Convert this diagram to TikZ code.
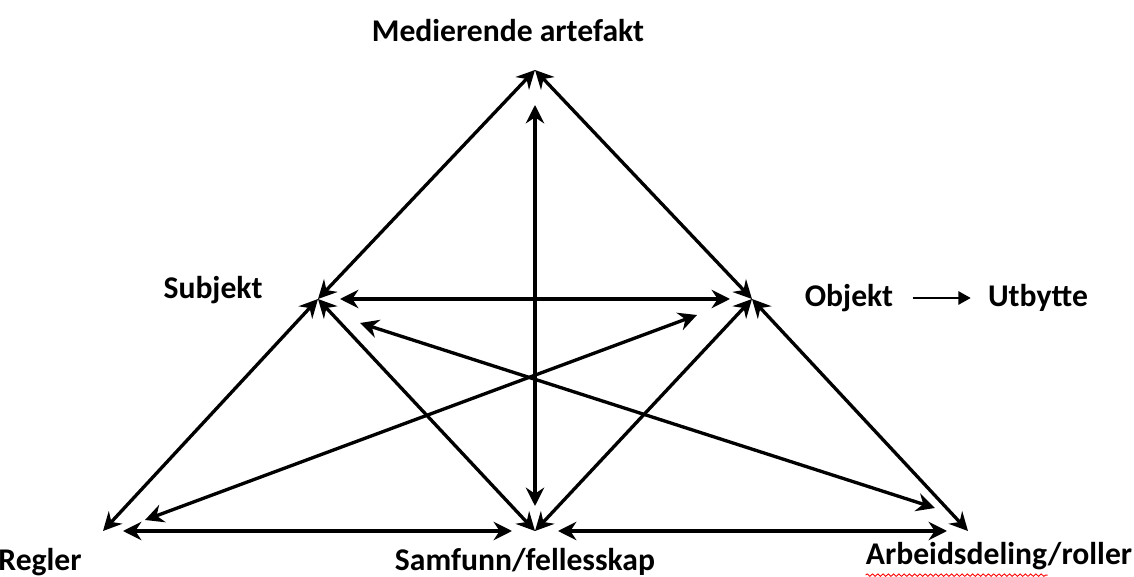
\documentclass[tikz,border=0pt]{standalone}
\usepackage{fontspec}
\setmainfont{Carlito}
\usetikzlibrary{arrows.meta,decorations.pathmorphing}
\tikzset{
  label text/.style = {font=\fontsize{18}{20}\selectfont\bfseries, inner sep=0pt},
  arr/.style        = {{Stealth[length=10.5pt,width=10.5pt,inset=3.5pt]}-{Stealth[length=10.5pt,width=10.5pt,inset=3.5pt]},
                       line width=1.9pt},
  out arr/.style    = {-{Triangle[length=7pt,width=7.5pt]}, line width=1.1pt},
  spell mark/.style = {red, line width=0.5pt, decorate,
                       decoration={snake, amplitude=0.7pt, segment length=3pt}},
}

\begin{document}
\begin{tikzpicture}[x=0.02cm, y=-0.02cm]
  \useasboundingbox (0,0) rectangle (1134,577);

  %% --- corners of the triangles -----------------------------------
  \coordinate (T) at (535,70);
  \coordinate (S) at (318,299);
  \coordinate (O) at (752,299);
  \coordinate (R) at (103,531);
  \coordinate (C) at (535,531);
  \coordinate (A) at (968,531);

  %% free ends of the long diagonals
  \coordinate (ro1) at (145,520);
  \coordinate (ro2) at (697,315);
  \coordinate (sa1) at (360,323);
  \coordinate (sa2) at (935,508);

  %% --- outer triangle ---------------------------------------------
  \draw[arr] (S) -- (T);
  \draw[arr] (T) -- (O);
  \draw[arr] (R) -- (S);
  \draw[arr] (S) -- (C);
  \draw[arr] (C) -- (O);
  \draw[arr] (O) -- (A);

  %% --- inner connections ------------------------------------------
  \draw[arr, shorten <=0.7cm, shorten >=0.5cm] (T) -- (C);
  \draw[arr, shorten <=0.44cm, shorten >=0.44cm] (S) -- (O);
  \draw[arr, shorten <=0.4cm, shorten >=0.46cm] (R) -- (C);
  \draw[arr, shorten <=0.46cm, shorten >=0.42cm] (C) -- (A);
  \draw[arr] (ro1) -- (ro2);
  \draw[arr] (sa1) -- (sa2);

  %% --- labels -----------------------------------------------------
  \node[label text] (med) at (508,31)  {Medierende artefakt};
  \node[label text] (sub) at (213,290) {Subjekt};
  \node[label text] (obj) at (849,298) {Objekt};
  \node[label text] (utb) at (1038,298) {Utbytte};
  \node[label text] (reg) at (40,562)  {Regler};
  \node[label text] (sam) at (525,562) {Samfunn/fellesskap};
  \node[label text] (arb) at (999,556) {Arbeidsdeling/roller};

  \draw[out arr, shorten <=0.38cm, shorten >=0.34cm] (obj.east) -- (utb.west);
  \draw[spell mark] (arb.south west) ++(0,5) -- ++(182,0);
\end{tikzpicture}
\end{document}
